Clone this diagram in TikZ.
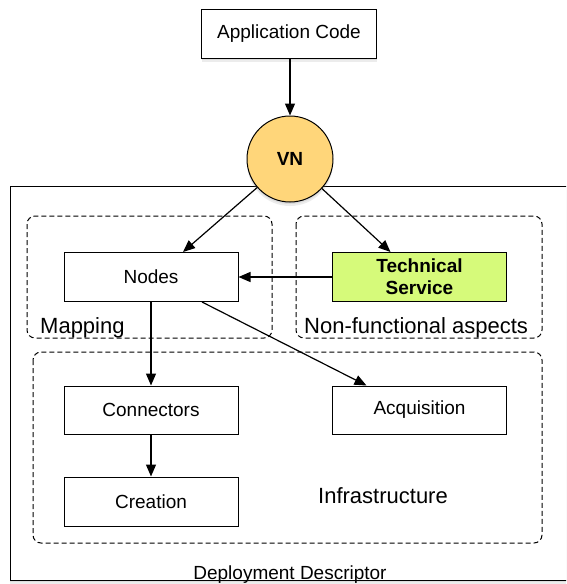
\documentclass[tikz,border=0pt]{standalone}
\usepackage{fontspec}
\setmainfont{Liberation Sans}
\usetikzlibrary{arrows.meta,shadows,calc}
\definecolor{vnfill}{RGB}{255,214,122}
\definecolor{tsfill}{RGB}{214,250,122}
\begin{document}
\begin{tikzpicture}[x=1pt,y=-1pt,
  softshadow/.style={drop shadow={shadow xshift=0pt,shadow yshift=-4pt,opacity=.15},
                     drop shadow={shadow xshift=0pt,shadow yshift=-2pt,opacity=.15}},
  box/.style={draw,line width=1pt,fill=white,minimum width=174pt,minimum height=49pt,
              inner sep=0pt,font=\fontsize{19}{22}\selectfont,align=center},
  group/.style={draw,dashed,dash pattern=on 5pt off 3pt,line width=1pt,rounded corners=8pt},
  lbl/.style={inner sep=0pt,font=\fontsize{22}{26}\selectfont},
  arr/.style={line width=1.2pt,-{Triangle[length=12pt,width=10pt]}}]
\useasboundingbox (0,0) rectangle (566,584);
\clip (0,0) rectangle (566,584);
% outer box
\draw[line width=1pt,fill=white,softshadow] (10,186) rectangle (580,580);
\node[lbl,font=\fontsize{19}{22}\selectfont,anchor=base] (dd) at (290,579) {Deployment Descriptor};
% groups
\draw[group] (27,216) rectangle (272,338);
\draw[group] (296,216) rectangle (542,338);
\draw[group] (33,352) rectangle (542,543);
\node[lbl,anchor=base west] (map) at (40,333) {Mapping};
\node[lbl,anchor=base west] (nfa) at (304,333) {Non-functional aspects};
\node[lbl,anchor=base] (inf) at (383,503) {Infrastructure};
% nodes
\node[box,minimum width=175pt,softshadow] (app) at (289,33.5) {Application Code};
\node[draw,circle,line width=1pt,fill=vnfill,minimum size=86pt,inner sep=0pt,
      font=\fontsize{19}{22}\selectfont\bfseries,softshadow] (vn) at (290,159) {VN};
\node[box] (nodes) at (151,277) {Nodes};
\node[box,fill=tsfill,font=\fontsize{19}{22}\selectfont\bfseries] (tech) at (419.5,277) {Technical\\Service};
\node[box,minimum height=48pt] (conn) at (151,410) {Connectors};
\node[box,minimum height=48pt] (acq) at (419.5,410) {Acquisition};
\node[box] (crea) at (151,501.5) {Creation};
% connectors
\draw[arr] (app.south -| vn.north) -- (vn.north);
\draw[arr] (vn) -- ([xshift=32pt]nodes.north);
\draw[arr] (vn) -- ([xshift=-29pt]tech.north);
\draw[arr] (tech.west) -- (nodes.east);
\draw[arr] (nodes.south) -- (conn.north);
\draw[arr] ([xshift=51pt]nodes.south) -- ([xshift=-53pt]acq.north);
\draw[arr] (conn.south) -- (crea.north);
\end{tikzpicture}
\end{document}
